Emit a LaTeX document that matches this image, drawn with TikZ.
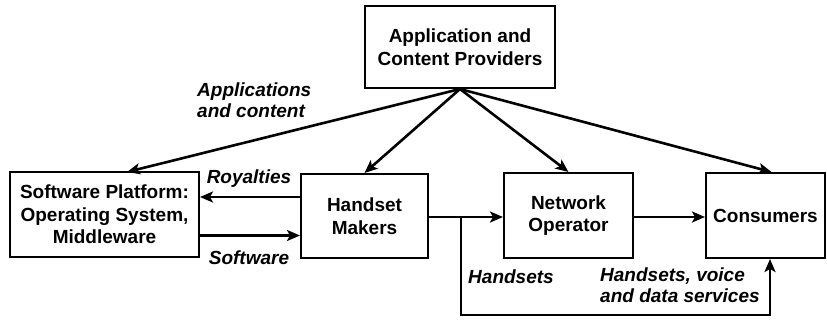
\documentclass[tikz,border=0pt]{standalone}
\usepackage{fontspec}
\setmainfont{Liberation Sans}
\usetikzlibrary{arrows.meta}
\begin{document}
\begin{tikzpicture}[x=1pt,y=-1pt,
  box/.style={draw,line width=2pt,align=center,font=\fontsize{19}{22.5}\selectfont\bfseries,inner sep=0pt},
  lab/.style={font=\fontsize{19}{21}\selectfont\bfseries\itshape,inner sep=0pt},
  arr/.style={line width=2.6pt,-{Stealth[length=13pt,width=11pt,inset=3pt]}}]
\useasboundingbox (0,0) rectangle (827,322);
\node[box,minimum width=190pt,minimum height=82pt] (top) at (460,47) {Application and\\Content Providers};
\node[box,minimum width=189pt,minimum height=85pt] (sp) at (104.5,214.5) {Software Platform:\\Operating System,\\Middleware};
\node[box,minimum width=127pt,minimum height=84pt] (hm) at (364.5,216) {Handset\\Makers};
\node[box,minimum width=129pt,minimum height=85pt] (no) at (568.5,215.5) {Network\\Operator};
\node[box,minimum width=119pt,minimum height=85pt] (co) at (765.5,215.5) {Consumers};
\coordinate (src) at (460,89);
\coordinate (spt) at (127,172);
\draw[arr] (src) -- (spt);
\draw[arr] (src) -- (hm.north);
\draw[arr] (src) -- (no.north);
\draw[arr] (src) -- ([xshift=6pt]co.north);
\draw[arr] ([yshift=19pt]hm.west) -- ([yshift=19pt]hm.west -| sp.east);
\draw[arr] ([yshift=-21pt]sp.east) -- ([yshift=-21pt]sp.east -| hm.west);
\draw[arr] (hm.east |- 0,217) -- (no.west |- 0,217);
\draw[arr] (no.east |- 0,217) -- (co.west |- 0,217);
\coordinate (br) at (461,217);
\draw[arr] (br) -- ++(0,98) -| ([xshift=4.5pt]co.south);
\node[lab,align=left,anchor=west] (ac) at (197,100) {Applications\\and content};
\node[lab] (roy) at (249,179) {Royalties};
\node[lab] (sw) at (249,258) {Software};
\node[lab] (hs) at (511,277) {Handsets};
\node[lab,align=left,anchor=north west] (hv) at (600,268) {Handsets, voice\\and data services};
\end{tikzpicture}
\end{document}
